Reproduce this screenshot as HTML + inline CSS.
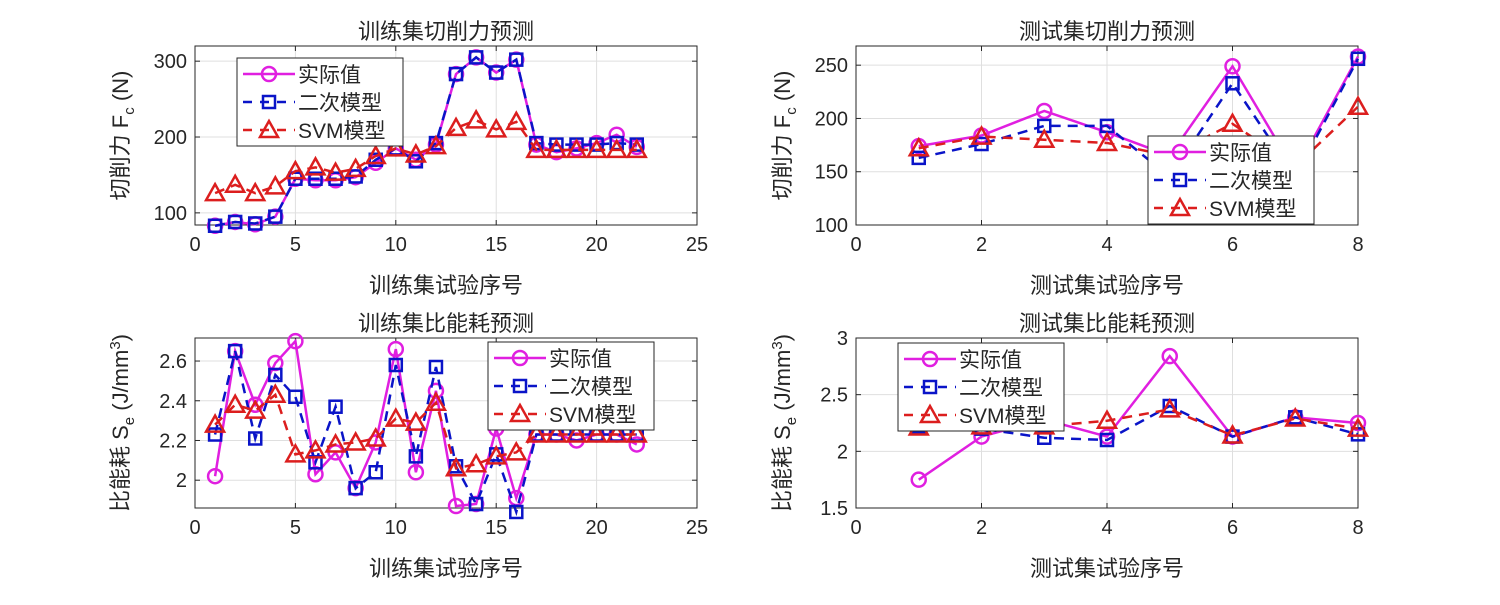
<!DOCTYPE html>
<html><head><meta charset="utf-8">
<style>
body{margin:0;background:#fff;}
svg text{font-family:"Liberation Sans","Noto Sans CJK SC",sans-serif;fill:#262626;}
</style></head>
<body>
<svg id="chart" width="1500" height="600" viewBox="0 0 1500 600" xmlns="http://www.w3.org/2000/svg"></svg>
<script>
// ---- data ----
const trainX = [1,2,3,4,5,6,7,8,9,10,11,12,13,14,15,16,17,18,19,20,21,22];
const testX = [1,2,3,4,5,6,7,8];
const fcTrainActual = [83,88,85,95,145,143,143,147,166,185,170,190,283,305,285,302,190,180,185,192,203,187];
const fcTrainQuad   = [83,88,86,95,145,145,145,148,170,185,168,192,283,305,285,302,192,190,190,190,192,190];
const fcTrainSvm    = [126,137,126,135,155,160,153,158,175,185,177,188,212,222,210,220,183,183,183,183,183,183];
const fcTestActual = [174,184,207,187,165,249,150,258];
const fcTestQuad   = [163,176,193,193,145,233,145,256];
const fcTestSvm    = [172,183,180,177,165,195,155,211];
const seTrainActual = [2.02,2.65,2.38,2.59,2.70,2.03,2.14,1.96,2.19,2.66,2.04,2.45,1.87,1.88,2.26,1.91,2.23,2.23,2.20,2.23,2.23,2.18];
const seTrainQuad   = [2.23,2.65,2.21,2.53,2.42,2.09,2.37,1.96,2.04,2.58,2.12,2.57,2.07,1.88,2.13,1.84,2.23,2.23,2.23,2.23,2.23,2.23];
const seTrainSvm    = [2.28,2.38,2.35,2.43,2.13,2.15,2.18,2.19,2.21,2.31,2.29,2.39,2.06,2.08,2.12,2.14,2.23,2.23,2.23,2.23,2.23,2.23];
const seTestActual = [1.75,2.13,2.28,2.13,2.84,2.13,2.30,2.25];
const seTestQuad   = [2.22,2.20,2.12,2.10,2.40,2.13,2.30,2.15];
const seTestSvm    = [2.21,2.22,2.22,2.27,2.37,2.14,2.29,2.20];
const xTicksTrain = [0,5,10,15,20,25];
const xTicksTest = [0,2,4,6,8];
const yTicksFcTrain = [100,200,300];
const yTicksFcTest = [100,150,200,250];
const yTicksSeTrain = [2,2.2,2.4,2.6];
const yTicksSeTest = [1.5,2,2.5,3];
const legendLabels = ['实际值','二次模型','SVM模型'];

const NS='http://www.w3.org/2000/svg';
const svg=document.getElementById('chart');
function mk(tag,attrs,parent){const e=document.createElementNS(NS,tag);for(const k in attrs)e.setAttribute(k,attrs[k]);(parent||svg).appendChild(e);return e;}
const COL=['#e01fe0','#0a14c8','#dc1e1e'];

function marker(g,type,x,y,col){
  let e;
  if(type===0){e=mk('circle',{cx:x,cy:y,r:7,fill:'none',stroke:col,'stroke-width':2.5},g);}
  else if(type===1){e=mk('rect',{x:x-6,y:y-6,width:12,height:12,fill:'none',stroke:col,'stroke-width':2.5},g);}
  else {e=mk('polygon',{points:`${x},${y-9} ${x-9},${y+7} ${x+9},${y+7}`,fill:'none',stroke:col,'stroke-width':2.5},g);}
  return e;
}

function panel(o){
  const g=mk('g',{});
  
  
  const sx=v=>o.L+(v-o.xmin)/(o.xmax-o.xmin)*(o.R-o.L);
  const sy=v=>o.B-(v-o.ymin)/(o.ymax-o.ymin)*(o.B-o.T);
  mk('rect',{x:o.L,y:o.T,width:o.R-o.L,height:o.B-o.T,fill:'#fff'},g);
  o.xt.forEach(t=>{
    const x=sx(t);
    const l=mk('line',{x1:x,x2:x,y1:o.T,y2:o.B,stroke:'#dfdfdf','stroke-width':1},g);
    
    
    mk('line',{x1:x,x2:x,y1:o.B,y2:o.B-5,stroke:'#262626'},g);
    mk('line',{x1:x,x2:x,y1:o.T,y2:o.T+5,stroke:'#262626'},g);
    const tx=mk('text',{x:x,y:o.B+26,'text-anchor':'middle','font-size':20},g);
    tx.textContent=t;
    
    
  });
  o.yt.forEach(t=>{
    const y=sy(t);
    const l=mk('line',{x1:o.L,x2:o.R,y1:y,y2:y,stroke:'#dfdfdf','stroke-width':1},g);
    
    
    mk('line',{x1:o.L,x2:o.L+5,y1:y,y2:y,stroke:'#262626'},g);
    mk('line',{x1:o.R,x2:o.R-5,y1:y,y2:y,stroke:'#262626'},g);
    const tx=mk('text',{x:o.L-8,y:y+7,'text-anchor':'end','font-size':20},g);
    tx.textContent=t;
    
    
  });
  mk('rect',{x:o.L,y:o.T,width:o.R-o.L,height:o.B-o.T,fill:'none',stroke:'#262626','stroke-width':1},g);
  const series=[o.a,o.q,o.s];
  const dashes=['none','10,7','10,7'];
  const sn=['series-actual','series-quadratic','series-svm'];
  series.forEach((d,i)=>{
    const sg=mk('g',{},g);
    
    
    const pts=d.map((v,j)=>sx(o.x[j])+','+sy(v)).join(' ');
    const pl=mk('polyline',{points:pts,fill:'none',stroke:COL[i],'stroke-width':2.5,'stroke-dasharray':dashes[i]},sg);
    
    
    d.forEach((v,j)=>{
      const m=marker(sg,i,sx(o.x[j]),sy(v),COL[i]);
      
      
    });
  });
  const tt=mk('text',{x:(o.L+o.R)/2,y:o.T-7,'text-anchor':'middle','font-size':22},g);
  tt.textContent=o.title;
  
  
  const xl=mk('text',{x:(o.L+o.R)/2,y:o.B+68,'text-anchor':'middle','font-size':22},g);
  xl.textContent=o.xlabel;
  
  
  const yl=mk('text',{transform:`translate(${o.ylx},${(o.T+o.B)/2}) rotate(-90)`,'text-anchor':'middle','font-size':22},g);
  yl.innerHTML=o.ylabel;
  
  
  // legend
  const lg=mk('g',{},g);
  
  
  mk('rect',{x:o.lx,y:o.ly,width:166,height:88,fill:'#fff',stroke:'#262626','stroke-width':1},lg);
  legendLabels.forEach((lab,i)=>{
    const y=o.ly+16+i*28;
    const e=mk('g',{},lg);
    
    
    mk('line',{x1:o.lx+6,x2:o.lx+58,y1:y,y2:y,stroke:COL[i],'stroke-width':2.5,'stroke-dasharray':i?'9,8':'none'},e);
    marker(e,i,o.lx+32,y,COL[i]);
    const t=mk('text',{x:o.lx+61,y:y+8,'font-size':21},e);
    t.textContent=lab;
  });
}

panel({name:'train-cutting-force-plot',L:195,R:697,T:46,B:225,xmin:0,xmax:25,ymin:84,ymax:320,x:trainX,a:fcTrainActual,q:fcTrainQuad,s:fcTrainSvm,xt:xTicksTrain,yt:yTicksFcTrain,title:'训练集切削力预测',xlabel:'训练集试验序号',ylabel:'切削力 F<tspan dy="6" font-size="15">c</tspan><tspan dy="-6"> (N)</tspan>',ylx:128,lx:237,ly:58});
panel({name:'test-cutting-force-plot',L:856,R:1358,T:46,B:225,xmin:0,xmax:8,ymin:100,ymax:268,x:testX,a:fcTestActual,q:fcTestQuad,s:fcTestSvm,xt:xTicksTest,yt:yTicksFcTest,title:'测试集切削力预测',xlabel:'测试集试验序号',ylabel:'切削力 F<tspan dy="6" font-size="15">c</tspan><tspan dy="-6"> (N)</tspan>',ylx:790,lx:1148,ly:136});
panel({name:'train-energy-plot',L:195,R:697,T:338,B:508,xmin:0,xmax:25,ymin:1.86,ymax:2.716,x:trainX,a:seTrainActual,q:seTrainQuad,s:seTrainSvm,xt:xTicksTrain,yt:yTicksSeTrain,title:'训练集比能耗预测',xlabel:'训练集试验序号',ylabel:'比能耗 S<tspan dy="6" font-size="15">e</tspan><tspan dy="-6"> (J/mm</tspan><tspan dy="-8" font-size="15">3</tspan><tspan dy="8">)</tspan>',ylx:128,lx:488,ly:342});
panel({name:'test-energy-plot',L:856,R:1358,T:338,B:508,xmin:0,xmax:8,ymin:1.5,ymax:3,x:testX,a:seTestActual,q:seTestQuad,s:seTestSvm,xt:xTicksTest,yt:yTicksSeTest,title:'测试集比能耗预测',xlabel:'测试集试验序号',ylabel:'比能耗 S<tspan dy="6" font-size="15">e</tspan><tspan dy="-6"> (J/mm</tspan><tspan dy="-8" font-size="15">3</tspan><tspan dy="8">)</tspan>',ylx:790,lx:898,ly:343});
</script>
</body></html>
